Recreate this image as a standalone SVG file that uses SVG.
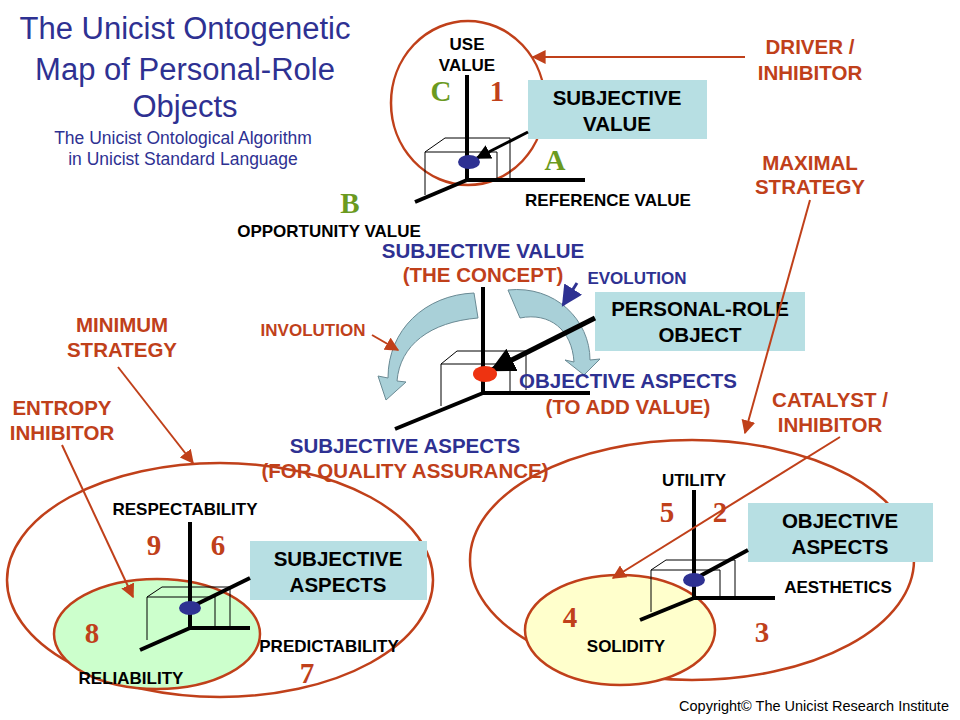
<svg xmlns="http://www.w3.org/2000/svg" width="960" height="720" viewBox="0 0 960 720">
<defs>
<style>
.t{font-family:"Liberation Sans",Arial,sans-serif;font-weight:bold;text-anchor:middle}
.k{fill:#000;font-size:17px}
.r{fill:#c0401a}
.n{fill:#2e3192}
.big{font-size:20.5px}
.num{font-family:"Liberation Serif","Times New Roman",serif;font-weight:bold;font-size:29px;text-anchor:middle}
.g{fill:#6b9a1f}
.box{fill:#b7dfe3}
.ax{stroke:#000;stroke-width:4;fill:none}
.cube{stroke:#000;stroke-width:1;fill:none}
.ra{stroke:#c0401a;stroke-width:2;fill:none;marker-end:url(#rh)}
.ring{fill:none;stroke:#c0401a;stroke-width:2.5}
.curv{fill:#a9d0d8;stroke:#6a8a94;stroke-width:1}
.ti{font-family:"Liberation Sans",Arial,sans-serif;fill:#2e3192;text-anchor:middle}
</style>
<marker id="rh" viewBox="0 0 10 10" refX="9" refY="5" markerWidth="7" markerHeight="7" orient="auto"><path d="M0,0L10,5L0,10z" fill="#c0401a"/></marker>
<marker id="nh" viewBox="0 0 10 10" refX="9" refY="5" markerWidth="7" markerHeight="7" orient="auto"><path d="M0,0L10,5L0,10z" fill="#2e3192"/></marker>
<marker id="kh" viewBox="0 0 10 10" refX="9" refY="5" markerWidth="5" markerHeight="5" orient="auto"><path d="M0,0L10,5L0,10z" fill="#000"/></marker>
</defs>
<rect width="960" height="720" fill="#fff"/>

<g id="title">
<text x="185" y="39" class="ti" style="font-size:31px">The Unicist Ontogenetic</text>
<text x="185" y="80" class="ti" style="font-size:31px">Map of Personal-Role</text>
<text x="185" y="117" class="ti" style="font-size:31px">Objects</text>
<text x="183" y="144" class="ti" style="font-size:17.5px">The Unicist Ontological Algorithm</text>
<text x="183" y="165" class="ti" style="font-size:17.5px">in Unicist Standard Language</text>
</g>

<g id="top-cluster">
<ellipse cx="468" cy="103" rx="77" ry="82" class="ring"/>
<rect x="528" y="80" width="179" height="59" class="box"/>
<text x="617" y="105" class="t k big">SUBJECTIVE</text>
<text x="617" y="131" class="t k big">VALUE</text>
<polyline points="425,195 425,152 445,138 510,138 510,180" class="cube"/>
<polyline points="425,152 497,152 497,180" class="cube"/>
<line x1="467" y1="75" x2="467" y2="180" class="ax" stroke-width="3"/>
<line x1="467" y1="180" x2="585" y2="180" class="ax" stroke-width="3"/>
<line x1="467" y1="180" x2="415" y2="202" class="ax" stroke-width="3"/>
<line x1="528" y1="132" x2="477" y2="158" stroke="#000" stroke-width="3" marker-end="url(#kh)"/>
<ellipse cx="469" cy="162" rx="11" ry="7" fill="#2e3192"/>
<text x="467" y="50" class="t k">USE</text>
<text x="467" y="71" class="t k">VALUE</text>
<text x="441" y="101" class="num g">C</text>
<text x="497" y="101" class="num r">1</text>
<text x="555" y="170" class="num g">A</text>
<text x="350" y="213" class="num g">B</text>
<text x="608" y="206" class="t k">REFERENCE VALUE</text>
<text x="329" y="237" class="t k">OPPORTUNITY VALUE</text>
</g>

<g id="center-cluster">
<text x="483" y="258" class="t n big">SUBJECTIVE VALUE</text>
<text x="483" y="282" class="t r big">(THE CONCEPT)</text>
<path d="M474,293 C425,295 388,330 388,378 L378,376 L386,400 L406,382 L397,381 C400,345 430,322 478,318 Z" class="curv"/>
<path d="M508,290 C555,285 590,320 590,360 L600,359 L584,375 L565,360 L574,362 C572,330 550,312 520,318 Z" class="curv"/>
<rect x="595" y="292" width="210" height="59" class="box"/>
<text x="700" y="316" class="t k big">PERSONAL-ROLE</text>
<text x="700" y="342" class="t k big">OBJECT</text>
<polyline points="441,406 441,364 457,351 526,351 526,390" class="cube"/>
<polyline points="441,364 510,364 510,393" class="cube"/>
<line x1="483" y1="287" x2="483" y2="393" class="ax"/>
<line x1="483" y1="393" x2="590" y2="393" class="ax"/>
<line x1="483" y1="393" x2="395" y2="429" class="ax"/>
<line x1="595" y1="318" x2="492" y2="370" stroke="#000" stroke-width="5" marker-end="url(#kh)"/>
<ellipse cx="485" cy="374" rx="12" ry="8" fill="#ee3311"/>
<text x="637" y="284" class="t k" style="fill:#2e3192">EVOLUTION</text>
<text x="313" y="336" class="t r" style="font-size:17px">INVOLUTION</text>
<text x="628" y="388" class="t n big">OBJECTIVE ASPECTS</text>
<text x="628" y="414" class="t r big">(TO ADD VALUE)</text>
<text x="405" y="453" class="t n big">SUBJECTIVE ASPECTS</text>
<text x="405" y="478" class="t r big">(FOR QUALITY ASSURANCE)</text>
</g>

<g id="left-cluster">
<ellipse cx="220" cy="580" rx="213" ry="117" class="ring"/>
<ellipse cx="157" cy="634" rx="103" ry="55" fill="#ccffcc" stroke="#c0401a" stroke-width="2.5"/>
<rect x="250" y="541" width="177" height="59" class="box"/>
<text x="338" y="566" class="t k big">SUBJECTIVE</text>
<text x="338" y="592" class="t k big">ASPECTS</text>
<polyline points="147,640 147,597 162,587 230,587 230,628" class="cube"/>
<polyline points="147,597 215,597 215,628" class="cube"/>
<line x1="190" y1="522" x2="190" y2="628" class="ax" stroke-width="3"/>
<line x1="190" y1="628" x2="250" y2="628" class="ax" stroke-width="3"/>
<line x1="190" y1="628" x2="140" y2="650" class="ax" stroke-width="3"/>
<line x1="250" y1="578" x2="195" y2="605" class="ax" stroke-width="3"/>
<ellipse cx="190" cy="608" rx="11" ry="7" fill="#2e3192"/>
<text x="185" y="515" class="t k">RESPECTABILITY</text>
<text x="329" y="652" class="t k">PREDICTABILITY</text>
<text x="131" y="684" class="t k">RELIABILITY</text>
<text x="154" y="555" class="num r">9</text>
<text x="218" y="555" class="num r">6</text>
<text x="92" y="643" class="num r">8</text>
<text x="307" y="683" class="num r">7</text>
</g>

<g id="right-cluster">
<ellipse cx="692" cy="560" rx="222" ry="120" class="ring"/>
<ellipse cx="620" cy="630" rx="95" ry="55" fill="#ffffcc" stroke="#c0401a" stroke-width="2.5"/>
<rect x="748" y="503" width="185" height="59" class="box"/>
<text x="840" y="528" class="t k big">OBJECTIVE</text>
<text x="840" y="554" class="t k big">ASPECTS</text>
<polyline points="651,612 651,570 666,560 735,560 735,598" class="cube"/>
<polyline points="651,570 720,570 720,598" class="cube"/>
<line x1="694" y1="490" x2="694" y2="598" class="ax" stroke-width="3"/>
<line x1="694" y1="598" x2="775" y2="598" class="ax" stroke-width="3"/>
<line x1="694" y1="598" x2="640" y2="620" class="ax" stroke-width="3"/>
<line x1="748" y1="550" x2="700" y2="576" class="ax" stroke-width="3"/>
<ellipse cx="694" cy="580" rx="11" ry="7" fill="#2e3192"/>
<text x="694" y="486" class="t k">UTILITY</text>
<text x="838" y="593" class="t k">AESTHETICS</text>
<text x="626" y="652" class="t k">SOLIDITY</text>
<text x="667" y="522" class="num r">5</text>
<text x="720" y="522" class="num r">2</text>
<text x="570" y="627" class="num r">4</text>
<text x="762" y="642" class="num r">3</text>
</g>

<g id="side-labels">
<text x="810" y="54" class="t r big">DRIVER /</text>
<text x="810" y="80" class="t r big">INHIBITOR</text>
<text x="810" y="170" class="t r big">MAXIMAL</text>
<text x="810" y="194" class="t r big">STRATEGY</text>
<text x="122" y="332" class="t r big">MINIMUM</text>
<text x="122" y="357" class="t r big">STRATEGY</text>
<text x="62" y="415" class="t r big">ENTROPY</text>
<text x="62" y="440" class="t r big">INHIBITOR</text>
<text x="830" y="407" class="t r big">CATALYST /</text>
<text x="830" y="432" class="t r big">INHIBITOR</text>
</g>

<g id="connectors">
<line x1="745" y1="57" x2="533" y2="57" class="ra"/>
<line x1="810" y1="200" x2="745" y2="433" class="ra"/>
<line x1="118" y1="367" x2="193" y2="463" class="ra"/>
<line x1="62" y1="445" x2="133" y2="597" class="ra"/>
<line x1="840" y1="437" x2="613" y2="578" class="ra"/>
<line x1="372" y1="335" x2="398" y2="350" class="ra" stroke-width="3"/>
<line x1="577" y1="283" x2="563" y2="305" stroke="#2e3192" stroke-width="3" marker-end="url(#nh)"/>
</g>

<text x="814" y="711" style="font-family:'Liberation Sans',Arial,sans-serif;font-size:14.5px;text-anchor:middle">Copyright© The Unicist Research Institute</text>
</svg>
